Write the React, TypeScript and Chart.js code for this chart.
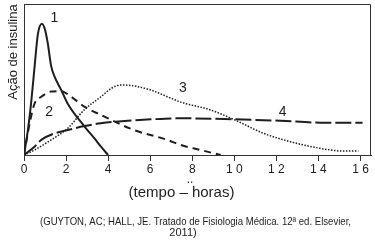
import React, { useEffect, useRef } from "react";
import { Chart, registerables } from "chart.js";

Chart.register(...registerables);

// x tick values and labels (hours)
const tickValues = [0, 2, 4, 6, 8, 10, 12, 14, 16];
const tickLabels = ["0", "2", "4", "6", "8", "1 0", "1 2", "1 4", "1 6"];

// Curve 1 (solid)
const c1x = [0, 0.2, 0.35, 0.5, 0.66, 0.85, 1.0, 1.13, 1.29, 1.45, 1.77, 2.08, 2.87, 3.35, 3.66, 4.0];
const c1y = [0, 18, 36, 58, 80, 87, 83, 74, 59, 52, 43, 34, 19, 11, 5.5, 0];
// Curve 2 (dashed)
const c2x = [0, 0.27, 0.5, 0.82, 1.29, 1.77, 2.24, 2.87, 3.66, 5.24, 6.82, 7.46, 8.4, 9.35];
const c2y = [0, 21, 34, 38.6, 42, 42.3, 38.6, 32, 26.5, 16.5, 10, 6.6, 3.3, 0];
// Curve 3 (dotted)
const c3x = [0, 0.5, 1.29, 2.08, 2.87, 3.66, 4.14, 4.6, 5.24, 6.03, 6.82, 7.46, 8.88, 10.06, 11.4, 12.67, 14.09, 15.2, 15.9];
const c3y = [0, 3.3, 10, 17.7, 30, 38.6, 44, 46.4, 45.7, 43, 38.6, 35, 29.8, 23, 14.3, 8.8, 4.4, 2.6, 2.6];
// Curve 4 (long dash)
const c4x = [0, 0.5, 0.82, 1.45, 2.08, 2.87, 3.66, 4.93, 6.03, 7.46, 10.06, 12.2, 14.09, 16.1];
const c4y = [0, 5.5, 10, 14.3, 16.5, 19.2, 21, 22.7, 23.6, 24.3, 23.6, 22.7, 21.4, 21.4];

// Curve labels
const curveLabels = ["1", "2", "3", "4"];
const curveLabelX = [1.44, 1.2, 7.55, 12.3];
const curveLabelY = [90.7, 28.5, 44, 28.5];

const yTitle = "Ação de insulina";
const xTitle = "(tempo – horas)";
const source1 = "(GUYTON, AC; HALL, JE. Tratado de Fisiologia Médica. 12ª ed. Elsevier,";
const source2 = "2011)";

const zip = (xs: number[], ys: number[]) => xs.map((x, i) => ({ x, y: ys[i] }));

const FONT = "'Liberation Sans', Arial, sans-serif";
const INK = "#1e1e1e";

export default function App() {
  const ref = useRef<HTMLCanvasElement | null>(null);

  useEffect(() => {
    if (!ref.current) return;
    const textPlugin = {
      id: "texts",
      afterDraw(chart: any) {
        const ctx = chart.ctx;
        const { chartArea, scales } = chart;
        const xs = scales.x;
        const ys = scales.y;
        ctx.save();
        // frame top & right
        ctx.strokeStyle = "#333";
        ctx.lineWidth = 1;
        ctx.beginPath();
        ctx.moveTo(chartArea.left, chartArea.top + 0.5);
        ctx.lineTo(chartArea.right - 0.5, chartArea.top + 0.5);
        ctx.lineTo(chartArea.right - 0.5, chartArea.bottom);
        ctx.stroke();

        ctx.fillStyle = INK;
        ctx.textAlign = "center";
        ctx.textBaseline = "middle";
        // curve labels
        ctx.font = `14px ${FONT}`;
        curveLabels.forEach((t, i) => {
          ctx.fillText(t, xs.getPixelForValue(curveLabelX[i]), ys.getPixelForValue(curveLabelY[i]));
        });
        // y title
        ctx.save();
        ctx.translate(13, 52);
        ctx.rotate(-Math.PI / 2);
        ctx.font = `13px ${FONT}`;
        ctx.fillText(yTitle, 0, 0);
        ctx.restore();
        // x title
        ctx.font = `15px ${FONT}`;
        ctx.fillText(xTitle, 181.5, 193);
        ctx.font = `12px ${FONT}`;
        ctx.fillText("..", 190, 180);
        // source
        ctx.font = `11px ${FONT}`;
        ctx.fillText(source1, 195.5, 222, 311);
        ctx.fillText(source2, 183, 233);
        ctx.restore();
      },
    };

    const chart = new Chart(ref.current, {
      type: "line",
      data: {
        datasets: [
          { data: zip(c1x, c1y), borderColor: INK, borderWidth: 2, borderDash: [] },
          { data: zip(c2x, c2y), borderColor: INK, borderWidth: 2, borderDash: [7, 5] },
          { data: zip(c3x, c3y), borderColor: INK, borderWidth: 1.5, borderDash: [1.5, 1.5] },
          { data: zip(c4x, c4y), borderColor: INK, borderWidth: 2, borderDash: [16, 4] },
        ].map((d) => ({
          ...d,
          pointRadius: 0,
          fill: false,
          cubicInterpolationMode: "monotone" as const,
        })),
      },
      options: {
        animation: false,
        responsive: false,
        layout: { padding: { left: 0, right: 4, top: 4, bottom: 0 } },
        plugins: { legend: { display: false }, tooltip: { enabled: false } },
        scales: {
          x: {
            type: "linear",
            min: 0,
            max: 16.5,
            afterBuildTicks: (scale: any) => {
              scale.ticks = tickValues.map((v) => ({ value: v }));
            },
            afterFit: (scale: any) => {
              scale.height = 86;
            },
            ticks: {
              autoSkip: false,
              maxRotation: 0,
              padding: 1,
              color: INK,
              font: { family: FONT, size: 12 },
              callback: (v: any) => {
                const i = tickValues.indexOf(Number(v));
                return i >= 0 ? tickLabels[i] : "";
              },
            },
            grid: { display: true, drawOnChartArea: false, drawTicks: true, tickLength: 6, color: "#333" },
            border: { display: true, color: "#333", width: 1 },
          },
          y: {
            min: 0,
            max: 100,
            afterFit: (scale: any) => {
              scale.width = 24;
            },
            ticks: { display: false },
            grid: { display: false },
            border: { display: true, color: "#333", width: 1 },
          },
        },
      },
      plugins: [textPlugin],
    } as any);
    return () => chart.destroy();
  }, []);

  return (
    <div style={{ position: "fixed", left: 0, top: 0, width: 375, height: 241, background: "#fff" }}>
      <canvas ref={ref} width={375} height={241} style={{ display: "block", width: 375, height: 241 }} />
    </div>
  );
}
